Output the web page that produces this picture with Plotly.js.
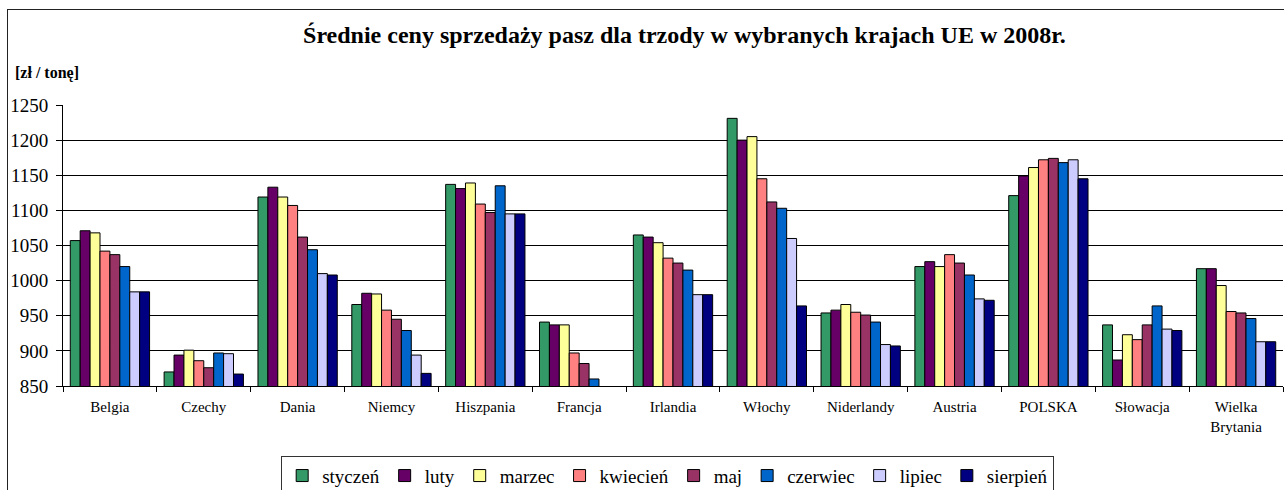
<!DOCTYPE html>
<html>
<head>
<meta charset="utf-8">
<script src="https://cdn.plot.ly/plotly-3.0.1.min.js"></script>
<style>
html,body{margin:0;padding:0;background:#fff;}
#frame{position:absolute;left:7px;top:9px;width:1290px;height:500px;border-left:1px solid #222;border-top:1px solid #222;pointer-events:none;}
#chart{position:absolute;left:0;top:0;width:1284px;height:490px;}
</style>
</head>
<body>
<div id="frame"></div>
<div id="chart"></div>
<script>
const countries = ["Belgia","Czechy","Dania","Niemcy","Hiszpania","Francja","Irlandia","Włochy","Niderlandy","Austria","POLSKA","Słowacja","Wielka<br>Brytania"];
const months = ["styczeń","luty","marzec","kwiecień","maj","czerwiec","lipiec","sierpień"];
const colors = ["#339966","#660066","#FFFF99","#FF8080","#993366","#0066CC","#CCCCFF","#000080"];

const styczen  = [1057, 870, 1119, 966, 1137, 941, 1065, 1231, 954, 1020, 1121, 937, 1017];
const luty     = [1071, 894, 1133, 982, 1131, 937, 1062, 1200, 958, 1027, 1149, 887, 1017];
const marzec   = [1068, 901, 1119, 981, 1139, 937, 1054, 1205, 966, 1020, 1161, 923, 993];
const kwiecien = [1042, 886, 1107, 958, 1109, 897, 1032, 1145, 955, 1037, 1172, 916, 956];
const maj      = [1037, 876, 1062, 945, 1097, 882, 1025, 1112, 951, 1025, 1174, 937, 954];
const czerwiec = [1020, 897, 1044, 929, 1135, 860, 1015, 1103, 941, 1008, 1168, 964, 946];
const lipiec   = [984, 896, 1010, 894, 1095, null, 980, 1060, 909, 974, 1172, 931, 913];
const sierpien = [984, 867, 1008, 868, 1095, null, 980, 964, 907, 972, 1145, 929, 913];

const series = [styczen, luty, marzec, kwiecien, maj, czerwiec, lipiec, sierpien];
const serif = "Liberation Serif";

const traces = series.map((vals, i) => ({
  type: "bar",
  name: months[i],
  x: countries,
  y: vals,
  marker: {color: colors[i], line: {color: "#000", width: 1}},
  hoverinfo: "x+y+name"
}));

const layout = {
  width: 1284, height: 490,
  margin: {l: 63, r: 1, t: 105, b: 104, pad: 0},
  paper_bgcolor: "rgba(0,0,0,0)",
  plot_bgcolor: "rgba(0,0,0,0)",
  barmode: "group",
  bargap: 0.155,
  bargroupgap: 0,
  font: {family: serif, color: "#000"},
  title: {
    text: "<b>Średnie ceny sprzedaży pasz dla trzody w wybranych krajach UE w 2008r.</b>",
    font: {family: serif, size: 24, color: "#000"},
    x: 0.533, xanchor: "center", xref: "container",
    y: 0.929, yanchor: "middle", yref: "container"
  },
  xaxis: {
    type: "category",
    showline: true, linecolor: "#000", linewidth: 1,
    ticks: "outside", tickson: "boundaries", ticklen: 5, tickcolor: "#000",
    tickfont: {family: serif, size: 15, color: "#000"},
    ticklabelstandoff: 7,
    showgrid: false, fixedrange: true
  },
  yaxis: {
    range: [850, 1250], dtick: 50, tick0: 850,
    showline: true, linecolor: "#000", linewidth: 1,
    ticks: "outside", ticklen: 6, tickcolor: "#000",
    tickfont: {family: serif, size: 19, color: "#000"},
    ticklabelstandoff: 4,
    showgrid: true, gridcolor: "#000", gridwidth: 1,
    zeroline: false, fixedrange: true
  },
  legend: {
    orientation: "h",
    x: 0.52, xanchor: "center", xref: "container",
    y: 0.07, yanchor: "top", yref: "container",
    font: {family: serif, size: 19, color: "#000"},
    bordercolor: "#333", borderwidth: 1,
    itemwidth: 30,
    traceorder: "normal"
  },
  annotations: [{
    text: "<b>[zł / tonę]</b>",
    xref: "paper", yref: "paper",
    x: -0.041, y: 1.114, xanchor: "left", yanchor: "middle",
    showarrow: false,
    font: {family: serif, size: 16, color: "#000"}
  }],
  showlegend: true
};

Plotly.newPlot("chart", traces, layout, {displayModeBar: false});
</script>
</body>
</html>
